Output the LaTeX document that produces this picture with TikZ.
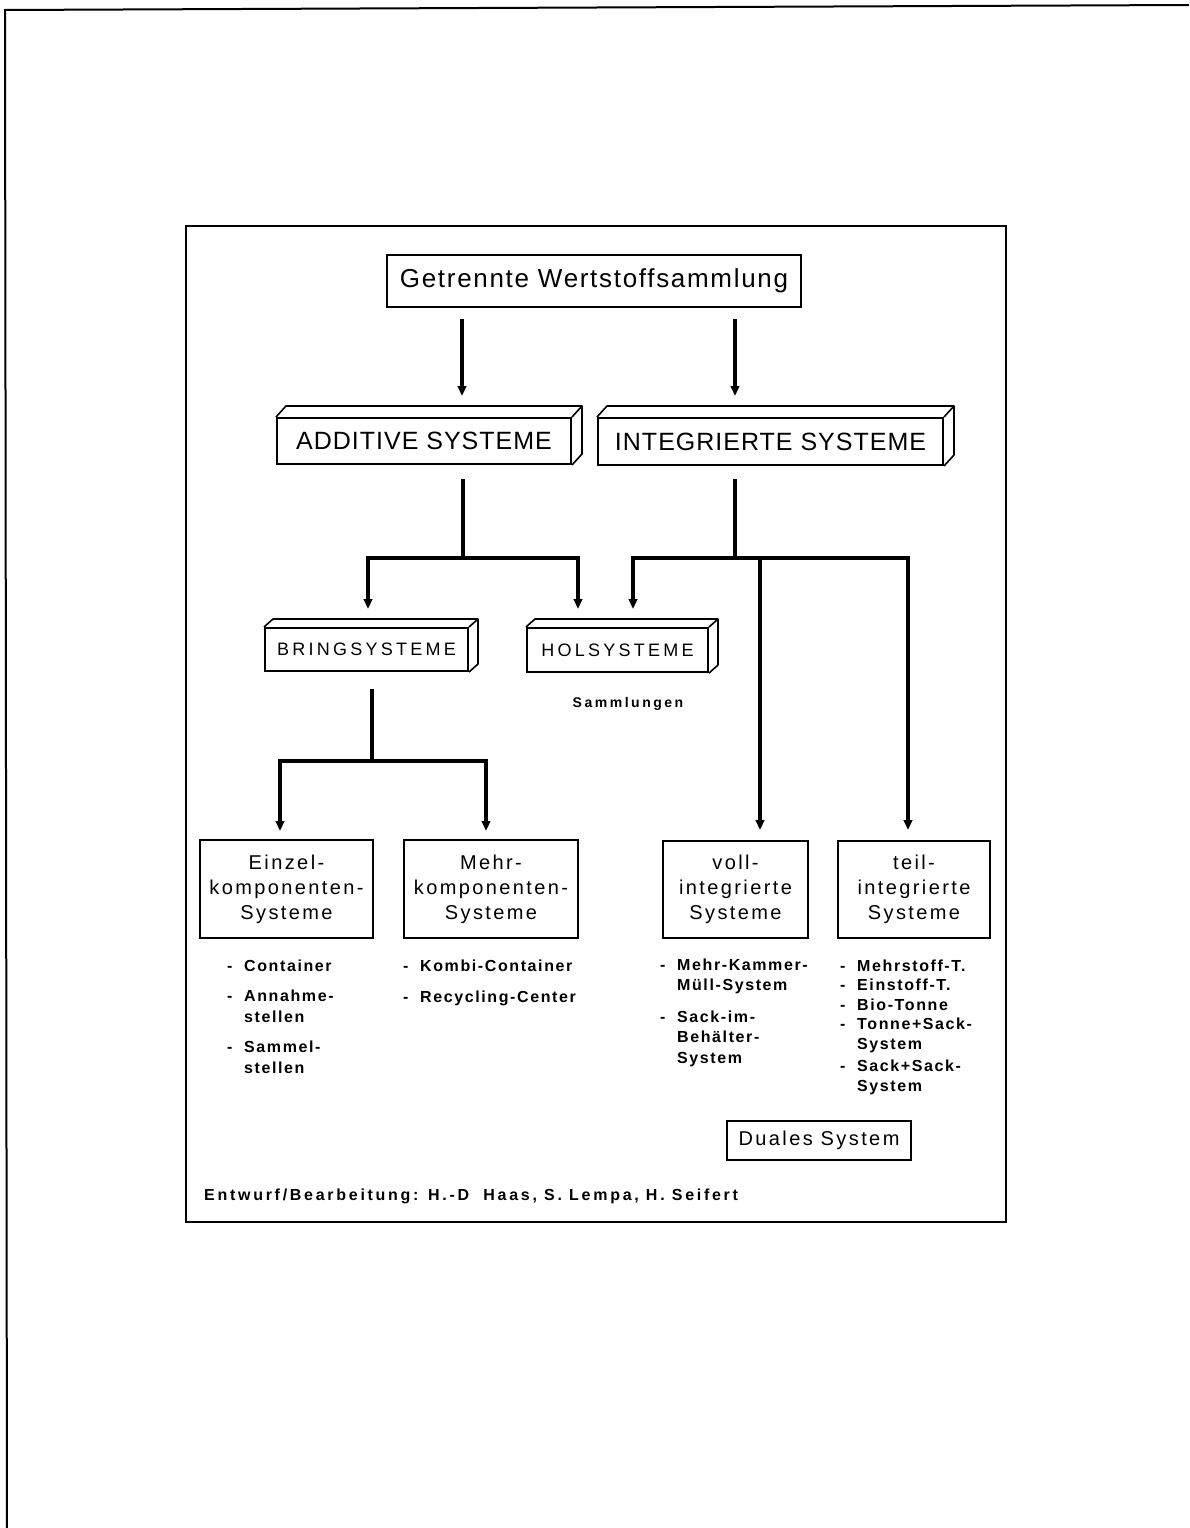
\documentclass[tikz,border=0pt]{standalone}
\usepackage{fontspec}
\setmainfont{Liberation Sans}
\usetikzlibrary{arrows.meta,calc}
\newcommand{\fsz}[2]{\fontsize{#1}{#2}\selectfont}
\newcommand{\threed}[3]{%
  \draw[face] (#1.north west) -- ++(#2,-#3) -- ($(#1.north east)+(#2,-#3)$) -- ($(#1.south east)+(#2,-#3)$) -- (#1.south east);
  \draw[face] (#1.north east) -- ++(#2,-#3);}
\newcommand{\dsh}{\makebox[17pt][l]{-}}
\begin{document}
\begin{tikzpicture}[x=1pt,y=-1pt,
  box/.style={draw,line width=2pt,inner sep=0pt,align=center},
  face/.style={line width=1.6pt,line join=round},
  conn/.style={line width=3.2pt},
  arr/.style={line width=3.2pt,-{Triangle[length=10pt,width=8.5pt]}},
  toptxt/.style={font={\fsz{26}{30}\addfontfeatures{LetterSpace=6.5}}},
  bigtxt/.style={font={\fsz{25}{28}\addfontfeatures{LetterSpace=4}}},
  midtxt/.style={font={\fsz{18}{20}\addfontfeatures{LetterSpace=18}}},
  boxtxt/.style={font={\fsz{20}{25}\addfontfeatures{LetterSpace=12}}},
  lst/.style={font={\bfseries\fsz{16}{20.5}\addfontfeatures{LetterSpace=10}},anchor=base west,inner sep=0pt,align=left}
]
\useasboundingbox (0,0) rectangle (1189,1528);
% page edges and frame
\draw[line width=2pt] (1189,5) -- (5,10) -- (7,1528);
\draw[line width=2pt] (186,226) rectangle (1006,1222);

% nodes
\node[box,toptxt,minimum width=414pt,minimum height=52pt] (top) at (594,281) {Getrennte Wertstoffsammlung};
\node[box,bigtxt,minimum width=294pt,minimum height=46pt] (add) at (424,441) {ADDITIVE SYSTEME};
\node[box,bigtxt,minimum width=345pt,minimum height=47pt] (int) at (770.5,441.5) {INTEGRIERTE SYSTEME};
\node[box,midtxt,minimum width=203pt,minimum height=43pt] (bring) at (366.5,649.5) {BRINGSYSTEME};
\node[box,midtxt,minimum width=181pt,minimum height=44pt] (hol) at (617.5,650) {HOLSYSTEME};
\threed{add}{10}{11}
\threed{int}{10}{11}
\threed{bring}{9}{8}
\threed{hol}{9}{8}
\node[font={\bfseries\fsz{14}{16}\addfontfeatures{LetterSpace=18}},anchor=base,inner sep=0pt] (samm) at (628,707) {Sammlungen};

\node[box,boxtxt,minimum width=173pt,minimum height=98pt] (einzel) at (286.5,889) {Einzel-\\komponenten-\\Systeme};
\node[box,boxtxt,minimum width=174pt,minimum height=98pt] (mehr) at (491,889) {Mehr-\\komponenten-\\Systeme};
\node[box,boxtxt,minimum width=145pt,minimum height=97pt] (voll) at (735.5,889.5) {voll-\\integrierte\\Systeme};
\node[box,boxtxt,minimum width=152pt,minimum height=97pt] (teil) at (914,889.5) {teil-\\integrierte\\Systeme};

\node[lst] (lstE) at (227,971) {\begin{tabular}[t]{@{}l@{}l@{}}\dsh&Container\\[10pt]\dsh&Annahme-\\&stellen\\[10pt]\dsh&Sammel-\\&stellen\end{tabular}};
\node[lst] (lstM) at (403,971) {\begin{tabular}[t]{@{}l@{}l@{}}\dsh&Kombi-Container\\[11pt]\dsh&Recycling-Center\end{tabular}};
\node[lst] (lstV) at (660,970) {\begin{tabular}[t]{@{}l@{}l@{}}\dsh&Mehr-Kammer-\\&Müll-System\\[11pt]\dsh&Sack-im-\\&Behälter-\\&System\end{tabular}};
\node[lst,font={\bfseries\fsz{16}{19.5}\addfontfeatures{LetterSpace=10}}] (lstT) at (840,971) {\begin{tabular}[t]{@{}l@{}l@{}}\dsh&Mehrstoff-T.\\\dsh&Einstoff-T.\\\dsh&Bio-Tonne\\\dsh&Tonne+Sack-\\&System\\[3pt]\dsh&Sack+Sack-\\&System\end{tabular}};

\node[box,boxtxt,minimum width=184pt,minimum height=39pt] (duales) at (819,1140.5) {Duales System};
\node[lst,font={\bfseries\fsz{16}{20}\addfontfeatures{LetterSpace=17}}] (foot) at (204,1200) {Entwurf/Bearbeitung: H.-D\ \ Haas, S. Lempa, H. Seifert};

% connectors
\draw[arr] ($(top.south)+(-132,11)$) -- ($(add.north)+(38,-21)$);
\draw[arr] ($(top.south)+(141,11)$) -- ($(int.north)+(-35.5,-21)$);

\coordinate (jA) at ($(add.south)+(39,93)$);
\coordinate (jI) at ($(int.south)+(-35.5,92)$);
\coordinate (jB) at ($(bring.south)+(5.5,89)$);

\draw[conn] ($(add.south)+(39,14)$) -- (jA);
\draw[arr] (jA) -| ($(bring.north)+(1.5,-18)$);
\draw[arr] (jA) -| ($(hol.north)+(-39.5,-18)$);

\draw[conn] ($(int.south)+(-35.5,13)$) -- (jI);
\draw[arr] (jI) -| ($(hol.north)+(15.5,-18)$);
\draw[arr] (jI) -| ($(voll.north)+(24.5,-10)$);
\draw[arr] (jI) -| ($(teil.north)+(-6,-10)$);

\draw[conn] ($(bring.south)+(5.5,17)$) -- (jB);
\draw[arr] (jB) -| ($(einzel.north)+(-6.5,-8)$);
\draw[arr] (jB) -| ($(mehr.north)+(-5,-8)$);
\end{tikzpicture}
\end{document}
